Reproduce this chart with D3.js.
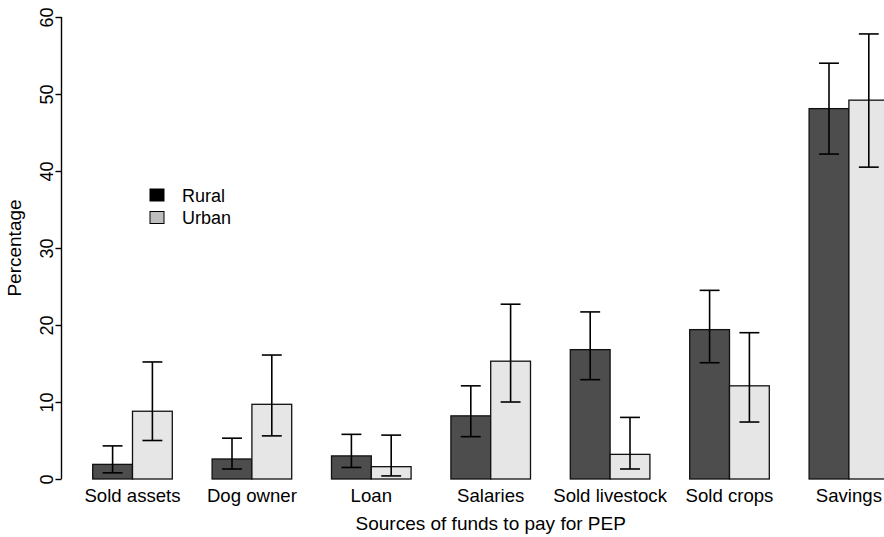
<!DOCTYPE html>
<html>
<head>
<meta charset="utf-8">
<script src="https://cdn.jsdelivr.net/npm/d3@7"></script>
<style>
  body { margin: 0; background: #fff; }
  text { font-family: "Liberation Sans", Arial, Helvetica, sans-serif; fill: #000; }
</style>
</head>
<body>
<div id="chart"></div>
<script>
const categories = ["Sold assets", "Dog owner", "Loan", "Salaries", "Sold livestock", "Sold crops", "Savings"];
const groups = ["Rural", "Urban"];
const rural = [1.9, 2.6, 3.0, 8.2, 16.8, 19.4, 48.1];
const ruralLow = [0.8, 1.3, 1.5, 5.5, 12.9, 15.1, 42.2];
const ruralHigh = [4.3, 5.3, 5.8, 12.1, 21.7, 24.5, 54.0];
const urban = [8.8, 9.7, 1.6, 15.3, 3.2, 12.1, 49.2];
const urbanLow = [5.0, 5.6, 0.4, 10.0, 1.3, 7.4, 40.5];
const urbanHigh = [15.2, 16.1, 5.7, 22.7, 8.0, 19.0, 57.8];
const yTicks = [0, 10, 20, 30, 40, 50, 60];

const width = 884, height = 537;
const fills = { Rural: "#4d4d4d", Urban: "#e6e6e6" };
const legendFills = { Rural: "#000000", Urban: "#bebebe" };

const svg = d3.select("#chart").append("svg")
  .attr("width", width)
  .attr("height", height);

// bar units like barplot(space = c(0, 1)): each group = 1 gap + 2 bars
const xUnit = d3.scaleLinear().domain([0, 1]).range([52.9, 92.7]);
const y = d3.scaleLinear().domain([0, 60]).range([479, 17]);

const data = [];
categories.forEach(function(c, i) {
  data.push({cat: c, group: "Rural", u: 1 + 3 * i, v: rural[i], lo: ruralLow[i], hi: ruralHigh[i]});
  data.push({cat: c, group: "Urban", u: 2 + 3 * i, v: urban[i], lo: urbanLow[i], hi: urbanHigh[i]});
});

svg.selectAll("rect.bar")
  .data(data)
  .enter().append("rect")
  .attr("class", "bar")
  .attr("x", d => xUnit(d.u))
  .attr("y", d => y(d.v))
  .attr("width", d => xUnit(d.u + 1) - xUnit(d.u))
  .attr("height", d => y(0) - y(d.v))
  .style("fill", d => fills[d.group])
  .style("stroke", "#111")
  .style("stroke-width", 1.3);

// error bars
const err = svg.selectAll("g.err")
  .data(data)
  .enter().append("g")
  .attr("class", "err")
  .style("stroke", "#000")
  .style("stroke-width", 1.6);

err.append("line")
  .attr("x1", d => xUnit(d.u + 0.5)).attr("x2", d => xUnit(d.u + 0.5))
  .attr("y1", d => y(d.lo)).attr("y2", d => y(d.hi));
err.append("line")
  .attr("x1", d => xUnit(d.u + 0.25)).attr("x2", d => xUnit(d.u + 0.75))
  .attr("y1", d => y(d.hi)).attr("y2", d => y(d.hi));
err.append("line")
  .attr("x1", d => xUnit(d.u + 0.25)).attr("x2", d => xUnit(d.u + 0.75))
  .attr("y1", d => y(d.lo)).attr("y2", d => y(d.lo));

// y axis
const yAxis = svg.append("g")
  .attr("transform", "translate(61.5,0)")
  .call(d3.axisLeft(y).tickValues(yTicks).tickSize(6).tickPadding(3));
yAxis.select(".domain").attr("stroke", "#000").attr("stroke-width", 1.4)
  .attr("d", `M0,${y(0)}V${y(60)}`);
yAxis.selectAll(".tick line").attr("stroke", "#000").attr("stroke-width", 1.4);
yAxis.selectAll(".tick text")
  .style("font-size", "18px")
  .attr("transform", "rotate(-90)")
  .attr("x", 0)
  .attr("y", -9)
  .attr("dy", 0)
  .style("text-anchor", "middle");

svg.append("text")
  .attr("transform", "translate(21,248) rotate(-90)")
  .style("text-anchor", "middle")
  .style("font-size", "19px")
  .text("Percentage");

// category labels
svg.selectAll("text.cat")
  .data(categories)
  .enter().append("text")
  .attr("class", "cat")
  .attr("x", (d, i) => xUnit(2 + 3 * i))
  .attr("y", 502)
  .style("text-anchor", "middle")
  .style("font-size", "18.6px")
  .text(d => d);

svg.append("text")
  .attr("x", xUnit(11))
  .attr("y", 530)
  .style("text-anchor", "middle")
  .style("font-size", "19px")
  .text("Sources of funds to pay for PEP");

// legend
const legend = svg.selectAll(".legend")
  .data(groups)
  .enter().append("g")
  .attr("class", "legend")
  .attr("transform", (d, i) => "translate(150," + (189 + i * 22.5) + ")");

legend.append("rect")
  .attr("width", 14)
  .attr("height", 12)
  .style("fill", d => legendFills[d])
  .style("stroke", "#000")
  .style("stroke-width", 1);

legend.append("text")
  .attr("x", 32)
  .attr("y", 12.5)
  .style("font-size", "18px")
  .text(d => d);
</script>
</body>
</html>
